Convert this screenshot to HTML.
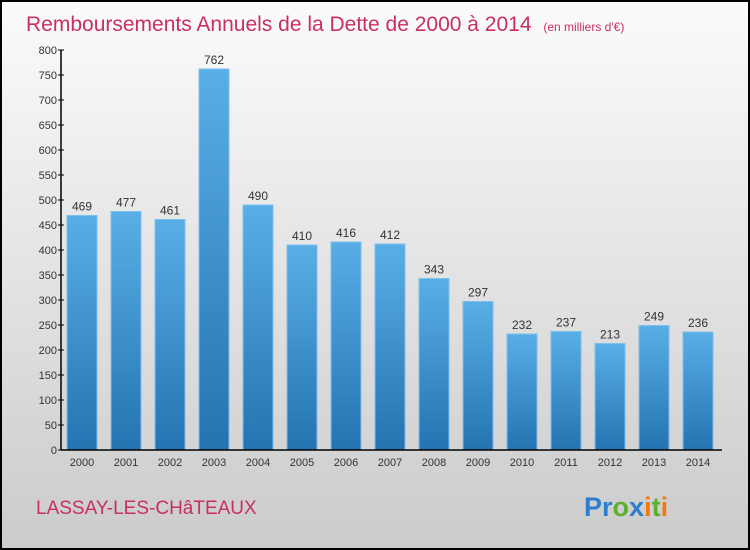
<!DOCTYPE html>
<html><head><meta charset="utf-8">
<style>
body{margin:0;}
#wrap{width:750px;height:550px;position:relative;overflow:hidden;font-family:"Liberation Sans",sans-serif;}
</style></head>
<body>
<div id="wrap">
<svg id="chart" width="750" height="550" xmlns="http://www.w3.org/2000/svg">
<defs>
<linearGradient id="bg" x1="0" y1="0" x2="0" y2="1"><stop offset="0" stop-color="#fbfbfb"/><stop offset="1" stop-color="#cbcbcb"/></linearGradient>
<linearGradient id="bar" x1="0" y1="0" x2="0" y2="1"><stop offset="0" stop-color="#5aaee6"/><stop offset="1" stop-color="#2374b0"/></linearGradient>
</defs>
<rect x="1" y="1" width="748" height="548" fill="url(#bg)" stroke="#000" stroke-width="2"/>
<text x="26" y="31" font-size="21" fill="#c8305f">Remboursements Annuels de la Dette de 2000 à 2014 <tspan font-size="12" dx="6">(en milliers d'€)</tspan></text>
<g id="bars"></g>
<g id="axes"></g>
<text x="36" y="514" font-size="19" fill="#c8305f">LASSAY-LES-CHâTEAUX</text>
<g font-size="27" font-weight="bold">
<text x="584" y="516"><tspan fill="#2a7fd0">Pr</tspan><tspan fill="#5cb030">o</tspan><tspan fill="#2a7fd0">x</tspan><tspan fill="#f07a10">i</tspan><tspan fill="#5cb030">t</tspan><tspan fill="#f07a10">i</tspan></text>
</g>
</svg>
</div>
<script>
const categories=["2000","2001","2002","2003","2004","2005","2006","2007","2008","2009","2010","2011","2012","2013","2014"];
const values=[469,477,461,762,490,410,416,412,343,297,232,237,213,249,236];
const yTicks=[0,50,100,150,200,250,300,350,400,450,500,550,600,650,700,750,800];
const NS="http://www.w3.org/2000/svg";
const x0=61,x1=722,yBase=450,yTop=50,yMax=800;
const step=44,bw=30,firstLeft=67;
function y(v){return yBase-(v/yMax)*(yBase-yTop);}
function xl(i){return firstLeft+i*step;}
function mk(tag,attrs,parent){const e=document.createElementNS(NS,tag);for(const k in attrs)e.setAttribute(k,attrs[k]);parent.appendChild(e);return e;}
const bars=document.getElementById('bars'),axes=document.getElementById('axes');
yTicks.forEach(t=>{
  const tk=mk('line',{x1:x0-3,x2:x0+3,y1:y(t),y2:y(t),stroke:'#000'},axes);
  
  
  const lb=mk('text',{x:x0-4,y:y(t)+4,'font-size':11,'text-anchor':'end',fill:'#333'},axes);
  lb.textContent=t;
  
  
});
values.forEach((v,i)=>{
  const r=mk('rect',{x:xl(i),y:y(v),width:bw,height:yBase-y(v),fill:'url(#bar)',stroke:'#7cc0ee','stroke-width':1},bars);
  
  
  const vl=mk('text',{x:xl(i)+bw/2,y:y(v)-5,'font-size':12,'text-anchor':'middle',fill:'#333'},bars);
  vl.textContent=v;
  
  
  const cl=mk('text',{x:xl(i)+bw/2,y:466,'font-size':11,'text-anchor':'middle',fill:'#333'},axes);
  cl.textContent=categories[i];
  
  
});
const ya=mk('line',{x1:x0,x2:x0,y1:yTop,y2:yBase,stroke:'#000','stroke-width':1.5},axes);


const xa=mk('line',{x1:x0,x2:x1,y1:yBase,y2:yBase,stroke:'#000','stroke-width':1.5},axes);


</script>
</body></html>
